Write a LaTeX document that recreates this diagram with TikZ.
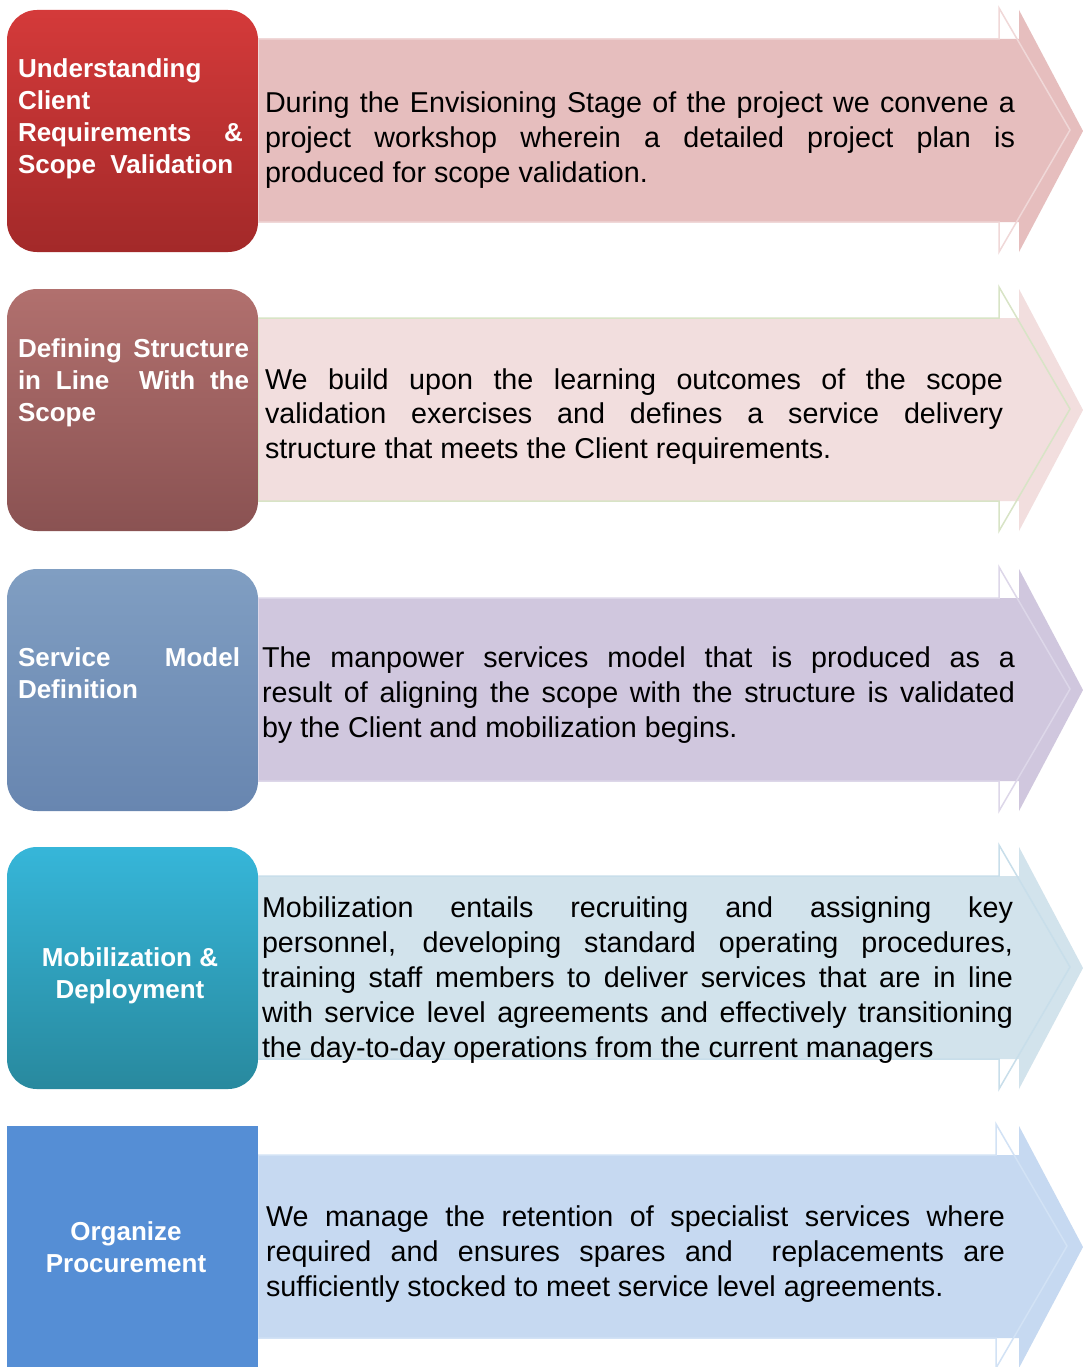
\documentclass[tikz,border=0pt]{standalone}
\usepackage{fontspec}
\setmainfont{Liberation Sans}
\definecolor{boxAt}{HTML}{D43A3A}\definecolor{boxAb}{HTML}{A32929}
\definecolor{boxBt}{HTML}{B1706E}\definecolor{boxBb}{HTML}{8A5252}
\definecolor{boxCt}{HTML}{809EC2}\definecolor{boxCb}{HTML}{6886B0}
\definecolor{boxDt}{HTML}{36B6D9}\definecolor{boxDb}{HTML}{28899E}
\definecolor{boxE}{HTML}{558ED5}
\definecolor{bandA}{HTML}{E6BEBE}\definecolor{lineA}{HTML}{F0D8D8}
\definecolor{bandB}{HTML}{F2DEDE}\definecolor{lineB}{HTML}{D8E4C6}
\definecolor{bandC}{HTML}{D0C7DE}\definecolor{lineC}{HTML}{DDD7E9}
\definecolor{bandD}{HTML}{D2E3EC}\definecolor{lineD}{HTML}{C8DEEA}
\definecolor{bandE}{HTML}{C6D9F1}\definecolor{lineE}{HTML}{D2E2F5}
\newcommand\rowarrow[5]{%
  \fill[#2] (258,#1+29) -- (1019,#1+29) -- (1019,#1) -- (1083,#1+121) -- (1019,#1+242) -- (1019,#1+212) -- (258,#1+212) -- cycle;
  \draw[#3,line width=1.5pt,line join=miter] (258,#1+29) -- (#4,#1+29) -- (#4,#1-2) -- (#5,#1+120) -- (#4,#1+242) -- (#4,#1+212) -- (258,#1+212) -- cycle;}
\begin{document}
\begin{tikzpicture}[x=1pt,y=-1pt,
  ttl/.style={text=white,font=\fontsize{26}{32}\selectfont\bfseries,inner sep=0pt,outer sep=0pt,anchor=north west,align=justify},
  ttlc/.style={text=white,font=\fontsize{26}{32}\selectfont\bfseries,inner sep=0pt,outer sep=0pt,anchor=north,align=center},
  body/.style={text=black,font=\fontsize{28.7}{35}\selectfont,inner sep=0pt,outer sep=0pt,anchor=north west,align=justify},
  lbox/.style={rounded corners=30pt}]
\useasboundingbox (0,0) rectangle (1083,1367);
\fill[white] (0,0) rectangle (1083,1367);
% arrows
\rowarrow{10}{bandA}{lineA}{999}{1070}
\rowarrow{289}{bandB}{lineB}{999}{1070}
\rowarrow{569}{bandC}{lineC}{999}{1070}
\rowarrow{847}{bandD}{lineD}{999}{1070}
\rowarrow{1126}{bandE}{lineE}{996}{1067}
% left boxes
\shade[lbox,top color=boxAt,bottom color=boxAb] (7,10) rectangle (258,252);
\shade[lbox,top color=boxBt,bottom color=boxBb] (7,289) rectangle (258,531);
\shade[lbox,top color=boxCt,bottom color=boxCb] (7,569) rectangle (258,811);
\shade[lbox,top color=boxDt,bottom color=boxDb] (7,847) rectangle (258,1089);
\fill[boxE] (7,1126) rectangle (258,1367);
% titles
\node[ttl,text width=225pt] (t1) at (18,55.2) {\hyphenpenalty=10000\strut Understanding\linebreak Client\linebreak Requirements \&\linebreak Scope\ \ Validation};
\node[ttl,text width=231pt] (t2) at (18,334.6) {\hyphenpenalty=10000\strut Defining Structure\linebreak in Line \ With the\linebreak Scope};
\node[ttl,text width=222pt] (t3) at (18,644.3) {\hyphenpenalty=10000\strut Service Model\linebreak Definition};
\node[ttlc] (t4) at (130,943.6) {\strut Mobilization \&\\Deployment};
\node[ttlc] (t5) at (126,1218) {\strut Organize\\Procurement};
% bodies
\node[body,text width=750pt] (b1) at (265,88.2) {\hyphenpenalty=10000\exhyphenpenalty=10000\strut During the Envisioning Stage of the project we convene a\linebreak project workshop wherein a detailed project plan is\linebreak produced for scope validation.};
\node[body,text width=738pt,font=\fontsize{28.7}{34.3}\selectfont] (b2) at (265,365.5) {\hyphenpenalty=10000\exhyphenpenalty=10000\strut We build upon the learning outcomes of the scope\linebreak validation exercises and defines a service delivery\linebreak structure that meets the Client requirements.};
\node[body,text width=753pt] (b3) at (262,643) {\hyphenpenalty=10000\exhyphenpenalty=10000\strut The manpower services model that is produced as a\linebreak result of aligning the scope with the structure is validated\linebreak by the Client and mobilization begins.};
\node[body,text width=751pt] (b4) at (262,892.6) {\hyphenpenalty=10000\exhyphenpenalty=10000\strut Mobilization entails recruiting and assigning key\linebreak personnel, developing standard operating procedures,\linebreak training staff members to deliver services that are in line\linebreak with service level agreements and effectively transitioning\linebreak the day-to-day operations from the current managers};
\node[body,text width=739pt] (b5) at (266,1202) {\hyphenpenalty=10000\exhyphenpenalty=10000\strut We manage the retention of specialist services where\linebreak required and ensures spares and \ replacements are\linebreak sufficiently stocked to meet service level agreements.};
\end{tikzpicture}
\end{document}
